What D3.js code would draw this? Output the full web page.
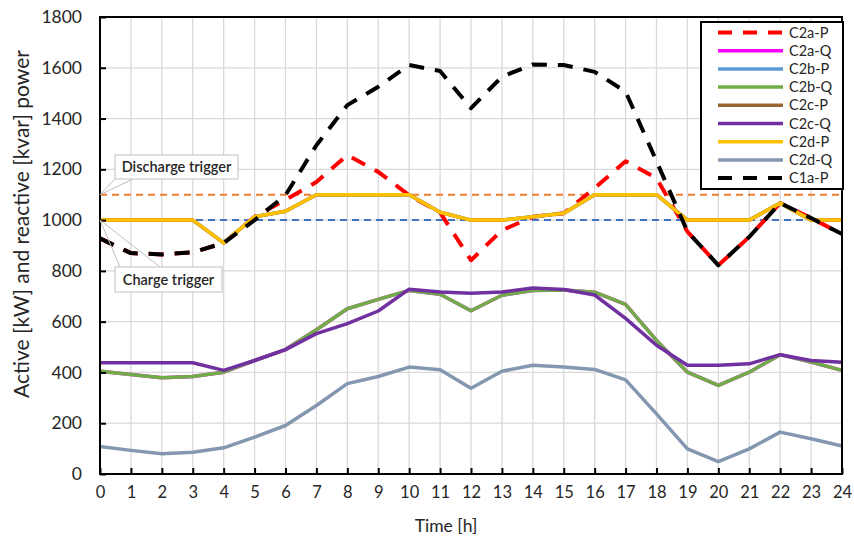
<!DOCTYPE html>
<html>
<head>
<meta charset="utf-8">
<script src="https://cdn.jsdelivr.net/npm/d3@7"></script>
<style>
  body { margin: 0; background: #fff; }
  text { font-family: Lato, "Open Sans", sans-serif; }
</style>
</head>
<body>
<div id="chart"></div>
<script>
/* Data */
const hours = d3.range(0, 25);
const yTicks = [0, 200, 400, 600, 800, 1000, 1200, 1400, 1600, 1800];

const c2aP = [928, 870, 865, 873, 910, 1013, 1080, 1150, 1256, 1190, 1098, 1030, 842, 960, 1013, 1027, 1126, 1232, 1165, 955, 822, 934, 1067, 1008, 945];
const c2dP = [1000, 1000, 1000, 1000, 910, 1013, 1035, 1100, 1100, 1100, 1100, 1031, 1000, 1000, 1013, 1027, 1100, 1100, 1100, 1000, 1000, 1000, 1067, 1000, 1000];
const c2bQ = [405, 392, 379, 384, 401, 447, 490, 568, 651, 688, 723, 708, 643, 704, 723, 725, 716, 668, 526, 401, 349, 401, 470, 441, 408];
const c2cQ = [438, 438, 438, 438, 408, 447, 490, 553, 592, 642, 728, 717, 712, 717, 733, 727, 705, 613, 507, 428, 428, 434, 470, 447, 440];
const c2dQ = [108, 93, 80, 86, 103, 145, 191, 270, 356, 384, 421, 411, 338, 405, 428, 421, 412, 371, 237, 99, 49, 99, 165, 139, 110];
const c1aP = [928, 870, 865, 873, 910, 1000, 1098, 1295, 1453, 1525, 1611, 1587, 1441, 1565, 1613, 1611, 1584, 1506, 1232, 955, 822, 934, 1067, 1008, 945];

const dischargeTrigger = 1100;
const chargeTrigger = 1000;

const series = [
  {name: "C2a-P", values: c2aP, color: "#FF0000", dash: "15,11"},
  {name: "C2a-Q", values: c2bQ, color: "#FF00FF"},
  {name: "C2b-P", values: c2dP, color: "#5B9BD5"},
  {name: "C2b-Q", values: c2bQ, color: "#70AD47"},
  {name: "C2c-P", values: c2dP, color: "#996633"},
  {name: "C2c-Q", values: c2cQ, color: "#7030A0"},
  {name: "C2d-P", values: c2dP, color: "#FFC000"},
  {name: "C2d-Q", values: c2dQ, color: "#8497B0"},
  {name: "C1a-P", values: c1aP, color: "#000000", dash: "15,11"}
];

const width = 854, height = 541;
const margins = {top: 17, right: 12, bottom: 67, left: 100};

const svg = d3.select("#chart")
  .append("svg")
  .attr("width", width)
  .attr("height", height);

const x = d3.scaleLinear().domain([0, 24]).range([margins.left, width - margins.right]);
const y = d3.scaleLinear().domain([0, 1800]).range([height - margins.bottom, margins.top]);

/* grid */
const grid = svg.append("g");
grid.selectAll("line.v").data(hours).join("line")
  .attr("x1", d => x(d)).attr("x2", d => x(d))
  .attr("y1", y(0)).attr("y2", y(1800))
  .attr("stroke", "#D9D9D9").attr("stroke-width", 1.3);
grid.selectAll("line.h").data(yTicks).join("line")
  .attr("x1", x(0)).attr("x2", x(24))
  .attr("y1", d => y(d)).attr("y2", d => y(d))
  .attr("stroke", "#D9D9D9").attr("stroke-width", 1.3);

/* trigger lines */
svg.append("line")
  .attr("x1", x(0)).attr("x2", x(24))
  .attr("y1", y(dischargeTrigger)).attr("y2", y(dischargeTrigger))
  .attr("stroke", "#ED7D31").attr("stroke-width", 2).attr("stroke-dasharray", "7,5");
svg.append("line")
  .attr("x1", x(0)).attr("x2", x(24))
  .attr("y1", y(chargeTrigger)).attr("y2", y(chargeTrigger))
  .attr("stroke", "#4472C4").attr("stroke-width", 2).attr("stroke-dasharray", "7,5");

/* series */
const line = d3.line().x((d, i) => x(hours[i])).y(d => y(d));
svg.append("g").selectAll("path").data(series).join("path")
  .attr("d", d => line(d.values))
  .attr("fill", "none")
  .attr("stroke", d => d.color)
  .attr("stroke-width", d => d.dash ? 4 : 3.5)
  .attr("stroke-dasharray", d => d.dash || null)
  .attr("stroke-linejoin", "round");

/* axes */
const xAxis = d3.axisBottom(x).tickValues(hours).tickSize(-6).tickPadding(12).tickFormat(d3.format("d"));
const yAxis = d3.axisLeft(y).tickValues(yTicks).tickSize(-6).tickPadding(18).tickFormat(d3.format("d"));

const xGroup = svg.append("g")
  .attr("transform", `translate(0,${y(0)})`)
  .call(xAxis);
const yGroup = svg.append("g")
  .attr("transform", `translate(${x(0)},0)`)
  .call(yAxis);

[xGroup, yGroup].forEach(g => {
  g.select(".domain").remove();
  g.selectAll("line").attr("stroke", "#000").attr("stroke-width", 2);
  g.selectAll("text").attr("fill", "#262626")
    .attr("font-family", "Lato, 'Open Sans', sans-serif");
});
xGroup.selectAll("text").attr("font-size", 16.5);
yGroup.selectAll("text").attr("font-size", 17.5);

/* frame */
svg.append("rect")
  .attr("x", x(0)).attr("y", y(1800))
  .attr("width", x(24) - x(0)).attr("height", y(0) - y(1800))
  .attr("fill", "none").attr("stroke", "#000").attr("stroke-width", 2);

/* axis titles */
svg.append("text")
  .attr("x", 446).attr("y", 532)
  .attr("text-anchor", "middle").attr("font-size", 17.5).attr("fill", "#262626")
  .text("Time [h]");
svg.append("text")
  .attr("transform", `translate(29,224) rotate(-90)`)
  .attr("text-anchor", "middle").attr("font-size", 21).attr("fill", "#262626")
  .text("Active [kW] and reactive [kvar] power");

/* callouts */
function callout(label, bx, by, bw, bh, px, py, ax1, ax2, ay) {
  const g = svg.append("g");
  g.append("path")
    .attr("d", `M${ax1},${ay} L${px},${py} L${ax2},${ay}`)
    .attr("fill", "none").attr("stroke", "#BFBFBF").attr("stroke-width", 1);
  g.append("rect")
    .attr("x", bx).attr("y", by).attr("width", bw).attr("height", bh)
    .attr("fill", "#fff").attr("stroke", "#BFBFBF").attr("stroke-width", 1);
  g.append("text")
    .attr("x", bx + bw / 2).attr("y", by + bh / 2 + 5)
    .attr("text-anchor", "middle").attr("font-size", 14.5).attr("font-weight", 600).attr("fill", "#262626")
    .text(label);
}
callout("Discharge trigger", 115, 155, 123, 24, x(0), y(dischargeTrigger), 115, 133, 179);
callout("Charge trigger", 115, 267, 107, 25, x(0), y(chargeTrigger), 120, 160, 267);

/* legend */
const legend = svg.append("g");
legend.append("rect")
  .attr("x", 701).attr("y", 22).attr("width", 142).attr("height", 167)
  .attr("fill", "#fff").attr("stroke", "#000").attr("stroke-width", 2);
const rows = legend.selectAll("g").data(series).join("g")
  .attr("transform", (d, i) => `translate(0,${32.5 + i * 18.2})`);
rows.append("line")
  .attr("x1", 718).attr("x2", 783).attr("y1", 0).attr("y2", 0)
  .attr("stroke", d => d.color)
  .attr("stroke-width", d => d.dash ? 4 : 3.5)
  .attr("stroke-dasharray", d => d.dash ? "14,11" : null);
rows.append("text")
  .attr("x", 789).attr("y", 5)
  .attr("font-size", 14.5).attr("fill", "#262626")
  .text(d => d.name);
</script>
</body>
</html>
